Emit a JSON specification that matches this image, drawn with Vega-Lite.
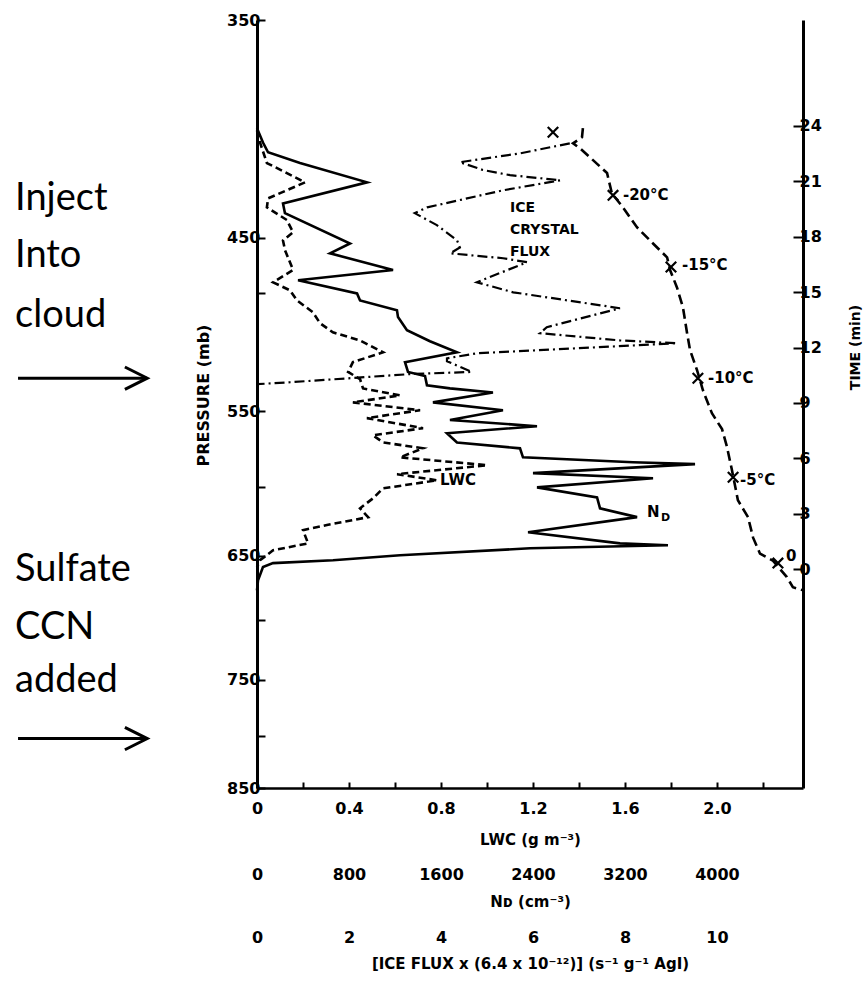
{
  "$schema": "https://vega.github.io/schema/vega-lite/v6.json",
  "width": 546,
  "height": 768,
  "autosize": {"type": "none"},
  "padding": {"left": 257, "top": 20, "right": 60, "bottom": 195},
  "background": "white",
  "config": {
    "view": {"stroke": null},
    "axis": {
      "grid": false,
      "labelFont": "DejaVu Sans", "labelFontWeight": "bold", "labelFontSize": 16, "labelColor": "black",
      "titleFont": "DejaVu Sans", "titleFontWeight": "bold", "titleFontSize": 15, "titleColor": "black",
      "domainColor": "black", "tickColor": "black", "labelOverlap": false, "labelFlush": false
    }
  },
  "datasets": {
    "lwc": [
      {"pressure": 397.6, "lwc": 0}, {"pressure": 403.2, "lwc": 0.013}, {"pressure": 412.9, "lwc": 0.043}, {"pressure": 417.7, "lwc": 0.13},
      {"pressure": 422.2, "lwc": 0.209}, {"pressure": 430.1, "lwc": 0.048}, {"pressure": 434.6, "lwc": 0.043}, {"pressure": 441.0, "lwc": 0.13},
      {"pressure": 447.3, "lwc": 0.157}, {"pressure": 451.5, "lwc": 0.113}, {"pressure": 456.7, "lwc": 0.122}, {"pressure": 467.2, "lwc": 0.157},
      {"pressure": 473.9, "lwc": 0.07}, {"pressure": 478.3, "lwc": 0.143}, {"pressure": 483.9, "lwc": 0.174}, {"pressure": 490.6, "lwc": 0.243},
      {"pressure": 496.8, "lwc": 0.274}, {"pressure": 502.1, "lwc": 0.33}, {"pressure": 506.8, "lwc": 0.448}, {"pressure": 513.8, "lwc": 0.548},
      {"pressure": 519.7, "lwc": 0.417}, {"pressure": 525.6, "lwc": 0.396}, {"pressure": 530.0, "lwc": 0.448}, {"pressure": 535.7, "lwc": 0.461},
      {"pressure": 540.0, "lwc": 0.622}, {"pressure": 544.4, "lwc": 0.417}, {"pressure": 549.4, "lwc": 0.709}, {"pressure": 554.4, "lwc": 0.478},
      {"pressure": 560.9, "lwc": 0.722}, {"pressure": 565.5, "lwc": 0.504}, {"pressure": 570.2, "lwc": 0.548}, {"pressure": 574.1, "lwc": 0.722},
      {"pressure": 580.1, "lwc": 0.622}, {"pressure": 585.4, "lwc": 1.0}, {"pressure": 591.5, "lwc": 0.609}, {"pressure": 595.7, "lwc": 0.783},
      {"pressure": 601.3, "lwc": 0.548}, {"pressure": 608.3, "lwc": 0.504}, {"pressure": 615.3, "lwc": 0.448}, {"pressure": 621.6, "lwc": 0.483},
      {"pressure": 627.3, "lwc": 0.304}, {"pressure": 631.0, "lwc": 0.2}, {"pressure": 640.7, "lwc": 0.222}, {"pressure": 645.9, "lwc": 0.07},
      {"pressure": 653.3, "lwc": 0.013}, {"pressure": 658.5, "lwc": 0}
    ],
    "nd": [
      {"pressure": 396.6, "nd": 0}, {"pressure": 403.2, "nd": 52}, {"pressure": 407.8, "nd": 96}, {"pressure": 412.9, "nd": 374},
      {"pressure": 422.2, "nd": 957}, {"pressure": 432.6, "nd": 226}, {"pressure": 437.5, "nd": 243}, {"pressure": 453.1, "nd": 809},
      {"pressure": 458.3, "nd": 635}, {"pressure": 467.2, "nd": 1183}, {"pressure": 472.8, "nd": 357}, {"pressure": 480.0, "nd": 870},
      {"pressure": 483.9, "nd": 896}, {"pressure": 489.4, "nd": 1217}, {"pressure": 493.3, "nd": 1226}, {"pressure": 500.9, "nd": 1304},
      {"pressure": 507.3, "nd": 1504}, {"pressure": 513.8, "nd": 1739}, {"pressure": 519.7, "nd": 1287}, {"pressure": 525.6, "nd": 1313},
      {"pressure": 528.1, "nd": 1461}, {"pressure": 533.8, "nd": 1478}, {"pressure": 535.7, "nd": 1678}, {"pressure": 538.2, "nd": 2052},
      {"pressure": 544.4, "nd": 1530}, {"pressure": 549.4, "nd": 2139}, {"pressure": 555.6, "nd": 1678}, {"pressure": 559.6, "nd": 2435},
      {"pressure": 564.2, "nd": 1652}, {"pressure": 570.2, "nd": 1739}, {"pressure": 574.1, "nd": 2287}, {"pressure": 580.1, "nd": 2313},
      {"pressure": 583.4, "nd": 3270}, {"pressure": 584.7, "nd": 3809}, {"pressure": 590.8, "nd": 2400}, {"pressure": 594.3, "nd": 3444},
      {"pressure": 600.6, "nd": 2435}, {"pressure": 607.6, "nd": 2957}, {"pressure": 615.3, "nd": 2983}, {"pressure": 621.6, "nd": 3305},
      {"pressure": 632.5, "nd": 2357}, {"pressure": 640.7, "nd": 3157}, {"pressure": 642.1, "nd": 3574}, {"pressure": 644.4, "nd": 2374},
      {"pressure": 649.6, "nd": 1244}, {"pressure": 653.3, "nd": 661}, {"pressure": 655.5, "nd": 139}, {"pressure": 658.5, "nd": 52},
      {"pressure": 668.6, "nd": 9}, {"pressure": 676.4, "nd": 0}
    ],
    "ice": [
      {"pressure": 403.6, "ice": 6.8}, {"pressure": 408.3, "ice": 5.72}, {"pressure": 412.5, "ice": 4.41}, {"pressure": 416.2, "ice": 4.91},
      {"pressure": 418.7, "ice": 5.5}, {"pressure": 421.2, "ice": 6.59}, {"pressure": 426.1, "ice": 5.35}, {"pressure": 434.6, "ice": 3.7},
      {"pressure": 437.5, "ice": 3.43}, {"pressure": 443.6, "ice": 3.91}, {"pressure": 451.5, "ice": 4.35}, {"pressure": 455.2, "ice": 4.41},
      {"pressure": 458.3, "ice": 4.2}, {"pressure": 460.9, "ice": 5.35}, {"pressure": 463.0, "ice": 5.87}, {"pressure": 473.9, "ice": 4.78},
      {"pressure": 479.4, "ice": 5.57}, {"pressure": 488.3, "ice": 7.89}, {"pressure": 499.1, "ice": 6.3}, {"pressure": 502.6, "ice": 6.15},
      {"pressure": 506.8, "ice": 7.89}, {"pressure": 508.5, "ice": 9.13}, {"pressure": 514.4, "ice": 4.78}, {"pressure": 517.4, "ice": 4.13},
      {"pressure": 519.1, "ice": 4.13}, {"pressure": 525.6, "ice": 4.67}, {"pressure": 526.9, "ice": 3.33}, {"pressure": 531.9, "ice": 0.72},
      {"pressure": 533.1, "ice": 0}
    ],
    "temp": [
      {"pressure": 396.6, "pos": 1.417}, {"pressure": 400.8, "pos": 1.413}, {"pressure": 403.6, "pos": 1.374}, {"pressure": 405.9, "pos": 1.404},
      {"pressure": 411.5, "pos": 1.461}, {"pressure": 417.7, "pos": 1.522}, {"pressure": 427.6, "pos": 1.543}, {"pressure": 434.6, "pos": 1.591},
      {"pressure": 444.7, "pos": 1.652}, {"pressure": 453.1, "pos": 1.722}, {"pressure": 460.4, "pos": 1.783}, {"pressure": 467.2, "pos": 1.796},
      {"pressure": 476.7, "pos": 1.826}, {"pressure": 487.8, "pos": 1.852}, {"pressure": 502.6, "pos": 1.87}, {"pressure": 512.6, "pos": 1.883},
      {"pressure": 524.4, "pos": 1.913}, {"pressure": 536.9, "pos": 1.939}, {"pressure": 551.3, "pos": 1.978}, {"pressure": 561.5, "pos": 2.022},
      {"pressure": 572.8, "pos": 2.043}, {"pressure": 588.7, "pos": 2.065}, {"pressure": 609.6, "pos": 2.091}, {"pressure": 621.6, "pos": 2.135},
      {"pressure": 636.5, "pos": 2.157}, {"pressure": 648.4, "pos": 2.187}, {"pressure": 653.6, "pos": 2.243}, {"pressure": 666.2, "pos": 2.304},
      {"pressure": 674.0, "pos": 2.33}, {"pressure": 676.4, "pos": 2.374}
    ],
    "tempMarks": [
      {"pressure": 398.5, "pos": 1.287}, {"pressure": 428.6, "pos": 1.548}, {"pressure": 465.6, "pos": 1.8},
      {"pressure": 529.4, "pos": 1.917}, {"pressure": 593.6, "pos": 2.07}, {"pressure": 655.5, "pos": 2.265}
    ],
    "tempLabels": [
      {"pressure": 428.6, "pos": 1.591, "label": "-20°C"}, {"pressure": 464.6, "pos": 1.848, "label": "-15°C"},
      {"pressure": 529.4, "pos": 1.961, "label": "-10°C"}, {"pressure": 595.7, "pos": 2.1, "label": "-5°C"},
      {"pressure": 650.3, "pos": 2.3, "label": "0"}
    ],
    "notes": [
      {"pressure": 436.0, "pos": -1.052, "text": "Inject"}, {"pressure": 465.6, "pos": -1.052, "text": "Into"},
      {"pressure": 499.1, "pos": -1.052, "text": "cloud"}, {"pressure": 669.3, "pos": -1.052, "text": "Sulfate"},
      {"pressure": 715.8, "pos": -1.052, "text": "CCN"}, {"pressure": 761.1, "pos": -1.052, "text": "added"}
    ],
    "arrows": [
      {"pressure": 529.4, "start": -1.039, "end": -0.478},
      {"pressure": 802.8, "start": -1.039, "end": -0.478}
    ],
    "time": [{"time": 0}, {"time": 3}, {"time": 6}, {"time": 9}, {"time": 12}, {"time": 15}, {"time": 18}, {"time": 21}, {"time": 24}]
  },
  "layer": [
    {
      "data": {"name": "lwc"},
      "mark": {"type": "line", "color": "black", "strokeWidth": 2.6, "strokeDash": [7, 4]},
      "encoding": {
        "x": {"field": "lwc", "type": "quantitative",
          "scale": {"domain": [0, 2.374], "nice": false, "zero": false},
          "axis": {"orient": "bottom", "values": [0, 0.2, 0.4, 0.6, 0.8, 1.0, 1.2, 1.4, 1.6, 1.8, 2.0, 2.2],
            "labelExpr": "round(datum.value*10) % 4 == 0 ? (datum.value == 0 ? '0' : format(datum.value, '.1f')) : ''",
            "tickSize": -6, "tickWidth": 2, "domainWidth": 2.5, "labelPadding": 18, "titlePadding": 16,
            "title": "LWC (g m⁻³)"}},
        "y": {"field": "pressure", "type": "quantitative",
          "scale": {"type": "log", "domain": [350, 850], "reverse": true, "nice": false},
          "axis": {"orient": "left", "values": [350, 450, 480, 550, 600, 650, 700, 750, 800, 850],
            "labelExpr": "indexof([350, 450, 550, 650, 750, 850], datum.value) >= 0 ? format(datum.value, 'd') : ''",
            "tickSize": -8, "tickWidth": 2, "domainWidth": 3, "labelPadding": 5, "labelBaseline": "middle",
            "title": "PRESSURE (mb)", "titleFontSize": 16, "titleX": -54, "titleY": 375, "titleAngle": 270, "titleBaseline": "middle", "titleAlign": "center"}},
        "order": {"value": null}
      }
    },
    {
      "data": {"values": [{"pressure": 595.7, "lwc": 0.796, "label": "LWC"}]},
      "mark": {"type": "text", "align": "left", "baseline": "middle", "font": "DejaVu Sans", "fontWeight": "bold", "fontSize": 15, "color": "black"},
      "encoding": {
        "x": {"field": "lwc", "type": "quantitative", "scale": {"domain": [0, 2.374], "nice": false, "zero": false}, "axis": null},
        "y": {"field": "pressure", "type": "quantitative", "scale": {"type": "log", "domain": [350, 850], "reverse": true, "nice": false}, "axis": null},
        "text": {"field": "label"}
      }
    },
    {
      "data": {"name": "nd"},
      "mark": {"type": "line", "color": "black", "strokeWidth": 2.6},
      "encoding": {
        "x": {"field": "nd", "type": "quantitative",
          "scale": {"domain": [0, 4748], "nice": false, "zero": false},
          "axis": {"orient": "bottom", "offset": 64, "values": [0, 800, 1600, 2400, 3200, 4000], "format": "d",
            "domain": false, "ticks": false, "labelPadding": 14, "titlePadding": 12, "title": "Nᴅ (cm⁻³)"}},
        "y": {"field": "pressure", "type": "quantitative", "scale": {"type": "log", "domain": [350, 850], "reverse": true, "nice": false}, "axis": null},
        "order": {"value": null}
      }
    },
    {
      "data": {"values": [{"pressure": 618.0, "nd": 3391, "label": "N"}]},
      "mark": {"type": "text", "align": "left", "baseline": "middle", "font": "DejaVu Sans", "fontWeight": "bold", "fontSize": 15, "color": "black"},
      "encoding": {
        "x": {"field": "nd", "type": "quantitative", "scale": {"domain": [0, 4748], "nice": false, "zero": false}, "axis": null},
        "y": {"field": "pressure", "type": "quantitative", "scale": {"type": "log", "domain": [350, 850], "reverse": true, "nice": false}, "axis": null},
        "text": {"field": "label"}
      }
    },
    {
      "data": {"values": [{"pressure": 618.0, "nd": 3391, "label": "D"}]},
      "mark": {"type": "text", "align": "left", "baseline": "middle", "dx": 14, "dy": 6, "font": "DejaVu Sans", "fontWeight": "bold", "fontSize": 11, "color": "black"},
      "encoding": {
        "x": {"field": "nd", "type": "quantitative", "scale": {"domain": [0, 4748], "nice": false, "zero": false}, "axis": null},
        "y": {"field": "pressure", "type": "quantitative", "scale": {"type": "log", "domain": [350, 850], "reverse": true, "nice": false}, "axis": null},
        "text": {"field": "label"}
      }
    },
    {
      "data": {"name": "ice"},
      "mark": {"type": "line", "color": "black", "strokeWidth": 2.2, "strokeDash": [10, 4, 2, 4]},
      "encoding": {
        "x": {"field": "ice", "type": "quantitative",
          "scale": {"domain": [0, 11.87], "nice": false, "zero": false},
          "axis": {"orient": "bottom", "offset": 127, "values": [0, 2, 4, 6, 8, 10], "format": "d",
            "domain": false, "ticks": false, "labelPadding": 14, "titlePadding": 11,
            "title": "[ICE FLUX x (6.4 x 10⁻¹²)] (s⁻¹ g⁻¹ AgI)"}},
        "y": {"field": "pressure", "type": "quantitative", "scale": {"type": "log", "domain": [350, 850], "reverse": true, "nice": false}, "axis": null},
        "order": {"value": null}
      }
    },
    {
      "data": {"values": [{"pressure": 435.0, "ice": 5.5, "label": "ICE\nCRYSTAL\nFLUX"}]},
      "mark": {"type": "text", "align": "left", "baseline": "middle", "lineBreak": "\n", "lineHeight": 22, "font": "DejaVu Sans", "fontWeight": "bold", "fontSize": 14, "color": "black"},
      "encoding": {
        "x": {"field": "ice", "type": "quantitative", "scale": {"domain": [0, 11.87], "nice": false, "zero": false}, "axis": null},
        "y": {"field": "pressure", "type": "quantitative", "scale": {"type": "log", "domain": [350, 850], "reverse": true, "nice": false}, "axis": null},
        "text": {"field": "label"}
      }
    },
    {
      "data": {"name": "temp"},
      "mark": {"type": "line", "color": "black", "strokeWidth": 2.6, "strokeDash": [10, 5]},
      "encoding": {
        "x": {"field": "pos", "type": "quantitative", "scale": {"domain": [0, 2.374], "nice": false, "zero": false}, "axis": null},
        "y": {"field": "pressure", "type": "quantitative", "scale": {"type": "log", "domain": [350, 850], "reverse": true, "nice": false}, "axis": null},
        "order": {"value": null}
      }
    },
    {
      "data": {"name": "tempMarks"},
      "mark": {"type": "point", "shape": "M-1,-1L1,1M-1,1L1,-1", "size": 110, "filled": false, "color": "black", "strokeWidth": 2.2, "opacity": 1},
      "encoding": {
        "x": {"field": "pos", "type": "quantitative", "scale": {"domain": [0, 2.374], "nice": false, "zero": false}, "axis": null},
        "y": {"field": "pressure", "type": "quantitative", "scale": {"type": "log", "domain": [350, 850], "reverse": true, "nice": false}, "axis": null}
      }
    },
    {
      "data": {"name": "tempLabels"},
      "mark": {"type": "text", "align": "left", "baseline": "middle", "font": "DejaVu Sans", "fontWeight": "bold", "fontSize": 15, "color": "black"},
      "encoding": {
        "x": {"field": "pos", "type": "quantitative", "scale": {"domain": [0, 2.374], "nice": false, "zero": false}, "axis": null},
        "y": {"field": "pressure", "type": "quantitative", "scale": {"type": "log", "domain": [350, 850], "reverse": true, "nice": false}, "axis": null},
        "text": {"field": "label"}
      }
    },
    {
      "data": {"name": "notes"},
      "mark": {"type": "text", "align": "left", "baseline": "alphabetic", "font": "Lato", "fontSize": 38, "color": "black"},
      "encoding": {
        "x": {"field": "pos", "type": "quantitative", "scale": {"domain": [0, 2.374], "nice": false, "zero": false}, "axis": null},
        "y": {"field": "pressure", "type": "quantitative", "scale": {"type": "log", "domain": [350, 850], "reverse": true, "nice": false}, "axis": null},
        "text": {"field": "text"}
      }
    },
    {
      "data": {"name": "arrows"},
      "mark": {"type": "rule", "color": "black", "strokeWidth": 3},
      "encoding": {
        "x": {"field": "start", "type": "quantitative", "scale": {"domain": [0, 2.374], "nice": false, "zero": false}, "axis": null},
        "x2": {"field": "end"},
        "y": {"field": "pressure", "type": "quantitative", "scale": {"type": "log", "domain": [350, 850], "reverse": true, "nice": false}, "axis": null}
      }
    },
    {
      "data": {"name": "arrows"},
      "mark": {"type": "point", "shape": "M-1,-1L1,0L-1,1", "size": 500, "filled": false, "color": "black", "strokeWidth": 3, "opacity": 1, "xOffset": -11},
      "encoding": {
        "x": {"field": "end", "type": "quantitative", "scale": {"domain": [0, 2.374], "nice": false, "zero": false}, "axis": null},
        "y": {"field": "pressure", "type": "quantitative", "scale": {"type": "log", "domain": [350, 850], "reverse": true, "nice": false}, "axis": null}
      }
    },
    {
      "data": {"name": "time"},
      "mark": {"type": "point", "opacity": 0},
      "encoding": {
        "y": {"field": "time", "type": "quantitative",
          "scale": {"domain": [-11.86, 29.74], "nice": false, "zero": false},
          "axis": {"orient": "right", "values": [0, 3, 6, 9, 12, 15, 18, 21, 24], "format": "d",
            "tickSize": -10, "tickWidth": 2, "domainWidth": 3, "labelPadding": 6, "labelBaseline": "middle",
            "title": "TIME (min)", "titleFontSize": 14, "titleX": 52, "titleY": 327, "titleAngle": 270, "titleBaseline": "middle", "titleAlign": "center"}}
      }
    }
  ],
  "resolve": {"scale": {"x": "independent", "y": "independent"}, "axis": {"x": "independent", "y": "independent"}}
}
